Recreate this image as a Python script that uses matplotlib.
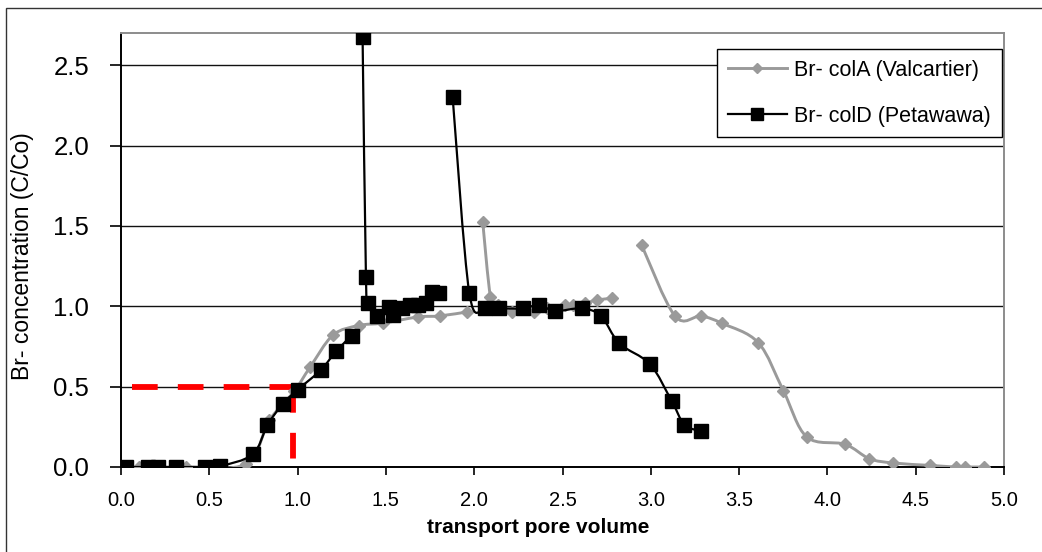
import matplotlib
matplotlib.use("Agg")
import numpy as np
import matplotlib.pyplot as plt
from matplotlib.path import Path
from matplotlib.patches import PathPatch, Rectangle
from matplotlib.lines import Line2D

plt.rcParams["font.family"] = ["Liberation Sans", "DejaVu Sans"]
plt.rcParams["lines.scale_dashes"] = False

# Br- breakthrough, column A (Valcartier) - three sampling runs
cola_x1 = [0.10, 0.37, 0.71, 0.84, 0.98, 1.07, 1.20, 1.345, 1.482, 1.68, 1.806, 1.961]
cola_y1 = [0.0, 0.0, 0.02, 0.29, 0.47, 0.62, 0.82, 0.88, 0.895, 0.933, 0.94, 0.965]
cola_x2 = [2.048, 2.092, 2.133, 2.212, 2.339, 2.41, 2.514, 2.557, 2.63, 2.694, 2.778]
cola_y2 = [1.527, 1.060, 1.005, 0.966, 0.966, 0.987, 1.007, 1.005, 1.02, 1.039, 1.049]
cola_x3 = [2.948, 3.137, 3.284, 3.405, 3.609, 3.751, 3.883, 4.10, 4.237, 4.373, 4.581, 4.728, 4.779, 4.888]
cola_y3 = [1.381, 0.939, 0.939, 0.893, 0.773, 0.474, 0.187, 0.141, 0.052, 0.025, 0.01, 0.0, 0.0, 0.0]

# Br- breakthrough, column D (Petawawa) - three sampling runs
cold_x1 = [0.03, 0.155, 0.21, 0.31, 0.476, 0.561, 0.746, 0.829, 0.915, 1.0, 1.131, 1.218, 1.306]
cold_y1 = [0.0, 0.0, 0.0, 0.0, 0.0, 0.005, 0.079, 0.26, 0.392, 0.48, 0.603, 0.72, 0.817]
cold_x2 = [1.368, 1.387, 1.40, 1.451, 1.519, 1.538, 1.589, 1.637, 1.684, 1.727, 1.759, 1.802]
cold_y2 = [2.675, 1.184, 1.018, 0.937, 0.997, 0.945, 0.987, 1.005, 1.005, 1.018, 1.09, 1.084]
cold_x3 = [1.878, 1.972, 2.063, 2.142, 2.274, 2.369, 2.457, 2.609, 2.718, 2.822, 2.995, 3.118, 3.19, 3.284]
cold_y3 = [2.30, 1.084, 0.987, 0.987, 0.987, 1.008, 0.97, 0.987, 0.939, 0.769, 0.64, 0.411, 0.264, 0.222]

# C/Co = 0.5 marker lines
half_conc = 0.5
half_start = 0.06
half_pv = 0.975

xticks = [0.0, 0.5, 1.0, 1.5, 2.0, 2.5, 3.0, 3.5, 4.0, 4.5, 5.0]
yticks = [0.0, 0.5, 1.0, 1.5, 2.0, 2.5]

label_a = "Br- colA (Valcartier)"
label_d = "Br- colD (Petawawa)"
gray = "#9a9a9a"


def smooth_path(x, y):
    """Cardinal (Catmull-Rom) spline through the points, as cubic Beziers."""
    pts = np.column_stack([x, y]).astype(float)
    n = len(pts)
    verts = [pts[0]]
    codes = [Path.MOVETO]
    for i in range(n - 1):
        p0 = pts[i - 1] if i > 0 else pts[i]
        p1 = pts[i]
        p2 = pts[i + 1]
        p3 = pts[i + 2] if i + 2 < n else pts[i + 1]
        verts += [p1 + (p2 - p0) / 6.0, p2 - (p3 - p1) / 6.0, p2]
        codes += [Path.CURVE4] * 3
    return Path(verts, codes)


fig = plt.figure(figsize=(10.42, 5.52), dpi=100)
ax = fig.add_axes([121 / 1042, 1 - 467 / 552, 883 / 1042, 434 / 552])

ax.set_xlim(0, 5)
ax.set_ylim(0, 2.7)

ax.yaxis.grid(True, color="#111111", lw=1.0)
ax.set_axisbelow(True)

# reference lines at half concentration
ax.plot([half_start, half_pv + 0.02], [half_conc, half_conc], color="#ff0000", lw=4.2,
        dashes=(18.5, 14.5), solid_capstyle="butt", zorder=2.5)
ax.plot([half_pv, half_pv], [half_conc, 0.0], color="#ff0000", lw=4.2,
        dashes=(18.5, 14.5), solid_capstyle="butt", zorder=2.5)

line_a, mark_a = 2.1, 6.4
line_d, mark_d = 1.6, 10.0

for xs, ys in [(cola_x1, cola_y1), (cola_x2, cola_y2), (cola_x3, cola_y3)]:
    ax.add_patch(PathPatch(smooth_path(xs, ys), fill=False, edgecolor=gray,
                           lw=line_a, zorder=3))
    ax.plot(xs, ys, ls="none", marker="D", ms=mark_a, color=gray, mec=gray, zorder=3.2)

for xs, ys in [(cold_x1, cold_y1), (cold_x2, cold_y2), (cold_x3, cold_y3)]:
    ax.add_patch(PathPatch(smooth_path(xs, ys), fill=False, edgecolor="black",
                           lw=line_d, zorder=4))
    ax.plot(xs, ys, ls="none", marker="s", ms=mark_d, color="black", zorder=4.2)

ax.set_xticks(xticks)
ax.set_xticklabels([f"{v:.1f}" for v in xticks])
ax.set_yticks(yticks)
ax.set_yticklabels([f"{v:.1f}" for v in yticks])

ax.tick_params(axis="x", direction="out", length=6, width=1.2, pad=11,
               labelsize=14.5, color="black")
ax.tick_params(axis="y", direction="out", length=8, width=1.2, pad=15,
               labelsize=18.5, color="black")

for side in ("left", "bottom"):
    ax.spines[side].set_color("black")
    ax.spines[side].set_linewidth(1.4)
for side in ("top", "right"):
    ax.spines[side].set_color("#8c8c8c")
    ax.spines[side].set_linewidth(1.4)

ax.set_xlabel("transport pore volume", fontsize=15, fontweight="bold")
ax.xaxis.set_label_coords(0.473, -0.118)
ax.set_ylabel("Br- concentration (C/Co)", fontsize=16.5)
ax.yaxis.set_label_coords(-0.098, 0.486)

handles = [
    Line2D([], [], color=gray, lw=line_a, marker="D", ms=mark_a * 0.8, mec=gray),
    Line2D([], [], color="black", lw=line_d, marker="s", ms=mark_d * 0.85),
]
leg = ax.legend(handles, [label_a, label_d], loc="upper left",
                bbox_to_anchor=(717 / 1042, 1 - 49 / 552), bbox_transform=fig.transFigure,
                fontsize=15.5, frameon=True, fancybox=False, framealpha=1,
                edgecolor="black", handlelength=2.75, handletextpad=0.35,
                labelspacing=1.15, borderpad=0.5, borderaxespad=0)
leg.get_frame().set_linewidth(1.0)
leg.set_zorder(10)

# chart-area border
fig.add_artist(Rectangle((5.5 / 1042, -0.05), 1.2, 1.05 - 8 / 552,
                         transform=fig.transFigure, fill=False,
                         edgecolor="#333333", lw=1.0))

fig.savefig("out.png", dpi=100)
